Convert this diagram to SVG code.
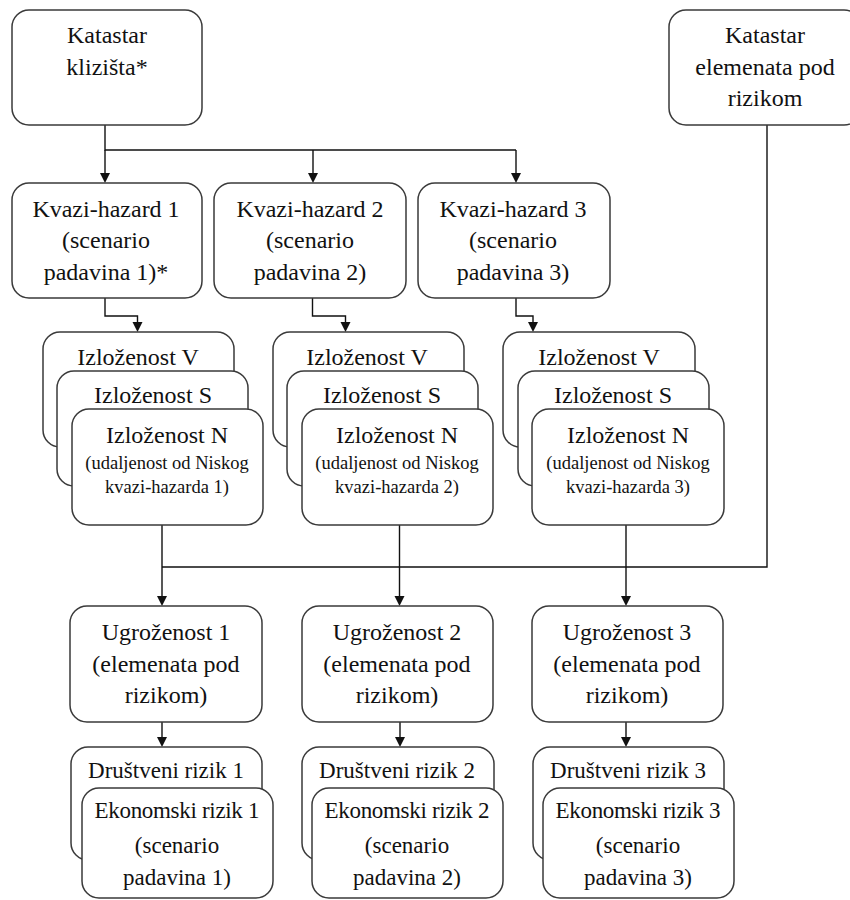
<svg xmlns="http://www.w3.org/2000/svg" width="850" height="900" viewBox="0 0 850 900">
<style>
.box{fill:#fff;stroke:#3a3a3a;stroke-width:1.5}
.t{font-family:"Liberation Serif","Times New Roman",serif;font-size:24px;fill:#111;text-anchor:middle}
.s{font-size:18.5px}
.b{font-size:23px}
.c{fill:none;stroke:#111;stroke-width:1.4}
</style>
<rect width="850" height="900" fill="#fff"/>

<g id="connectors">
<path class="c" d="M105,125 V150 H516"/>
<path class="c" d="M105,150 V173"/>
<path class="c" d="M313,150 V173"/>
<path class="c" d="M516,150 V173"/>
<path class="c" d="M767,125 V567 H162"/>
<path class="c" d="M105,298 V316 H137.5 V322"/>
<path class="c" d="M312.5,298 V316 H345.5 V322"/>
<path class="c" d="M516,298 V316 H533 V322"/>
<path class="c" d="M162,525 V596"/>
<path class="c" d="M399.5,525 V596"/>
<path class="c" d="M626,525 V596"/>
<path class="c" d="M162,722 V737"/>
<path class="c" d="M400,722 V737"/>
<path class="c" d="M626,722 V737"/>
<g fill="#111">
<path d="M100,173 H110 L105,183 Z"/>
<path d="M308,173 H318 L313,183 Z"/>
<path d="M511,173 H521 L516,183 Z"/>
<path d="M132.5,322 H142.5 L137.5,332 Z"/>
<path d="M340.5,322 H350.5 L345.5,332 Z"/>
<path d="M528,322 H538 L533,332 Z"/>
<path d="M157,596 H167 L162,606 Z"/>
<path d="M394.5,596 H404.5 L399.5,606 Z"/>
<path d="M621,596 H631 L626,606 Z"/>
<path d="M157,737 H167 L162,747 Z"/>
<path d="M395,737 H405 L400,747 Z"/>
<path d="M621,737 H631 L626,747 Z"/>
</g>
</g>

<g id="katastar-klizista">
<rect class="box" x="12" y="10" width="190" height="115" rx="17"/>
<text class="t" x="107" y="43">Katastar</text>
<text class="t" x="107" y="75">klizišta*</text>
</g>
<g id="katastar-elemenata">
<rect class="box" x="669" y="10" width="192" height="115" rx="17"/>
<text class="t" x="765" y="43">Katastar</text>
<text class="t" x="765" y="75">elemenata pod</text>
<text class="t" x="765" y="106">rizikom</text>
</g>

<g id="kvazi-hazard-1">
<rect class="box" x="12" y="183" width="190" height="115" rx="17"/>
<text class="t" x="106" y="217">Kvazi-hazard 1</text>
<text class="t" x="106" y="248">(scenario</text>
<text class="t" x="106" y="280">padavina 1)*</text>
</g>
<g id="kvazi-hazard-2">
<rect class="box" x="214" y="183" width="192" height="115" rx="17"/>
<text class="t" x="310" y="217">Kvazi-hazard 2</text>
<text class="t" x="310" y="248">(scenario</text>
<text class="t" x="310" y="280">padavina 2)</text>
</g>
<g id="kvazi-hazard-3">
<rect class="box" x="418" y="183" width="192" height="115" rx="17"/>
<text class="t" x="513" y="217">Kvazi-hazard 3</text>
<text class="t" x="513" y="248">(scenario</text>
<text class="t" x="513" y="280">padavina 3)</text>
</g>

<g id="izlozenost-1">
<rect class="box" x="43" y="332" width="191" height="115" rx="17"/>
<text class="t" x="138" y="365">Izloženost V</text>
<rect class="box" x="57" y="371" width="191" height="115" rx="17"/>
<text class="t" x="153" y="403">Izloženost S</text>
<rect class="box" x="72" y="409" width="191" height="116" rx="17"/>
<text class="t" x="167" y="443">Izloženost N</text>
<text class="t s" x="167" y="469">(udaljenost od Niskog</text>
<text class="t s" x="167" y="493">kvazi-hazarda 1)</text>
</g>
<g id="izlozenost-2">
<rect class="box" x="273" y="332" width="191" height="115" rx="17"/>
<text class="t" x="367" y="365">Izloženost V</text>
<rect class="box" x="287" y="371" width="191" height="115" rx="17"/>
<text class="t" x="382" y="403">Izloženost S</text>
<rect class="box" x="302" y="409" width="191" height="116" rx="17"/>
<text class="t" x="397" y="443">Izloženost N</text>
<text class="t s" x="397" y="469">(udaljenost od Niskog</text>
<text class="t s" x="397" y="493">kvazi-hazarda 2)</text>
</g>
<g id="izlozenost-3">
<rect class="box" x="503" y="332" width="192" height="115" rx="17"/>
<text class="t" x="599" y="365">Izloženost V</text>
<rect class="box" x="518" y="371" width="191" height="115" rx="17"/>
<text class="t" x="613" y="403">Izloženost S</text>
<rect class="box" x="532" y="409" width="192" height="116" rx="17"/>
<text class="t" x="628" y="443">Izloženost N</text>
<text class="t s" x="628" y="469">(udaljenost od Niskog</text>
<text class="t s" x="628" y="493">kvazi-hazarda 3)</text>
</g>

<g id="ugrozenost-1">
<rect class="box" x="70" y="606" width="192" height="116" rx="17"/>
<text class="t" x="166" y="640">Ugroženost 1</text>
<text class="t" x="166" y="672">(elemenata pod</text>
<text class="t" x="166" y="703">rizikom)</text>
</g>
<g id="ugrozenost-2">
<rect class="box" x="302" y="606" width="191" height="116" rx="17"/>
<text class="t" x="397" y="640">Ugroženost 2</text>
<text class="t" x="397" y="672">(elemenata pod</text>
<text class="t" x="397" y="703">rizikom)</text>
</g>
<g id="ugrozenost-3">
<rect class="box" x="532" y="606" width="191" height="116" rx="17"/>
<text class="t" x="627" y="640">Ugroženost 3</text>
<text class="t" x="627" y="672">(elemenata pod</text>
<text class="t" x="627" y="703">rizikom)</text>
</g>

<g id="rizik-1">
<rect class="box" x="71" y="747" width="191" height="113" rx="17"/>
<text class="t b" x="166" y="778">Društveni rizik 1</text>
<rect class="box" x="82" y="788" width="191" height="110" rx="17"/>
<text class="t b" x="177" y="818" textLength="165" lengthAdjust="spacing">Ekonomski rizik 1</text>
<text class="t b" x="177" y="853">(scenario</text>
<text class="t b" x="177" y="885">padavina 1)</text>
</g>
<g id="rizik-2">
<rect class="box" x="302" y="747" width="192" height="113" rx="17"/>
<text class="t b" x="397" y="778">Društveni rizik 2</text>
<rect class="box" x="312" y="788" width="191" height="110" rx="17"/>
<text class="t b" x="407" y="818" textLength="165" lengthAdjust="spacing">Ekonomski rizik 2</text>
<text class="t b" x="407" y="853">(scenario</text>
<text class="t b" x="407" y="885">padavina 2)</text>
</g>
<g id="rizik-3">
<rect class="box" x="533" y="747" width="191" height="113" rx="17"/>
<text class="t b" x="628" y="778">Društveni rizik 3</text>
<rect class="box" x="543" y="788" width="191" height="110" rx="17"/>
<text class="t b" x="638" y="818" textLength="165" lengthAdjust="spacing">Ekonomski rizik 3</text>
<text class="t b" x="638" y="853">(scenario</text>
<text class="t b" x="638" y="885">padavina 3)</text>
</g>
</svg>
